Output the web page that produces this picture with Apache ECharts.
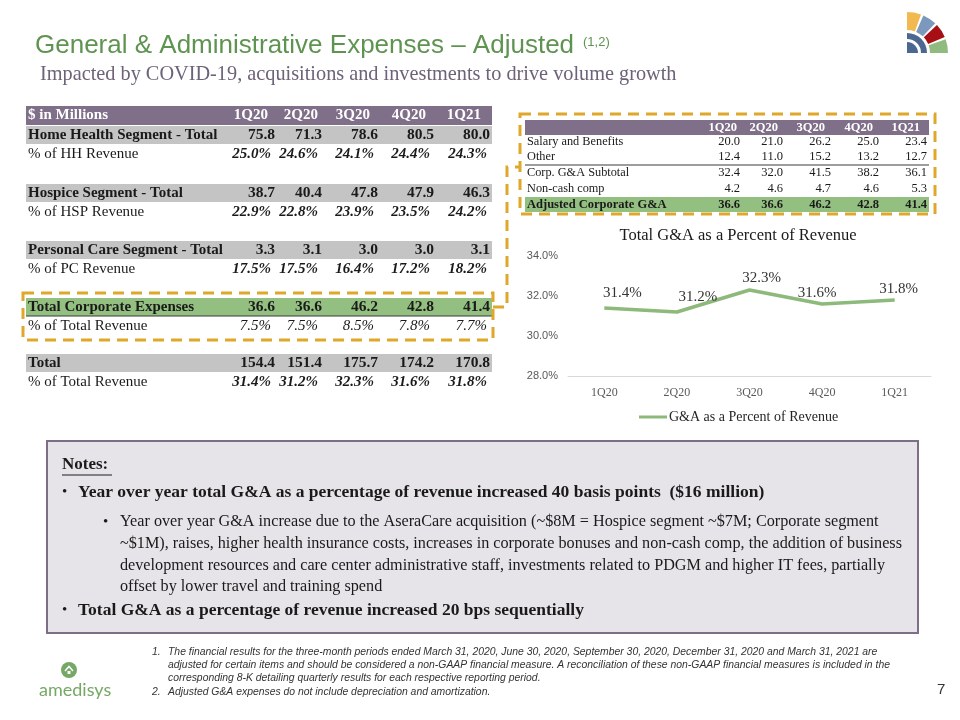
<!DOCTYPE html>
<html><head><meta charset="utf-8">
<script src="https://cdn.jsdelivr.net/npm/echarts@6/dist/echarts.min.js"></script>
<style>html,body{margin:0;padding:0;background:#fff}#c{width:960px;height:720px}</style>
</head><body><div id="c"></div>
<script>
// ---- data ----
const quarters = ['1Q20','2Q20','3Q20','4Q20','1Q21'];
const hhTotal  = [75.8, 71.3, 78.6, 80.5, 80.0];
const hhPct    = [25.0, 24.6, 24.1, 24.4, 24.3];
const hspTotal = [38.7, 40.4, 47.8, 47.9, 46.3];
const hspPct   = [22.9, 22.8, 23.9, 23.5, 24.2];
const pcTotal  = [3.3, 3.1, 3.0, 3.0, 3.1];
const pcPct    = [17.5, 17.5, 16.4, 17.2, 18.2];
const corpTotal= [36.6, 36.6, 46.2, 42.8, 41.4];
const corpPct  = [7.5, 7.5, 8.5, 7.8, 7.7];
const grandTotal = [154.4, 151.4, 175.7, 174.2, 170.8];
const grandPct = [31.4, 31.2, 32.3, 31.6, 31.8];
const salary   = [20.0, 21.0, 26.2, 25.0, 23.4];
const other    = [12.4, 11.0, 15.2, 13.2, 12.7];
const corpSub  = [32.4, 32.0, 41.5, 38.2, 36.1];
const nonCash  = [4.2, 4.6, 4.7, 4.6, 5.3];
const adjCorp  = [36.6, 36.6, 46.2, 42.8, 41.4];
const gaPctRevenue = [31.4, 31.2, 32.3, 31.6, 31.8];
const yMin = 28, yMax = 34, yStep = 2;

// ---- styles ----
const SERIF = '"Liberation Serif", Georgia, serif';
const SANS = '"Liberation Sans", Arial, sans-serif';
const PURPLE = '#7F6F89', GRAY = '#C4C4C4', GREEN = '#93BF80', GOLD = '#E0A82A';
const g = [];
function txt(x, y, s, opt) {
  opt = opt || {};
  const st = Object.assign({
    text: s, x: x, y: y, fill: '#1a1a1a',
    font: (opt.weight || 'normal') + ' ' + (opt.size || 14) + 'px ' + (opt.family || SERIF),
    align: opt.align || 'left', verticalAlign: 'middle',
    textAlign: opt.align || 'left', textVerticalAlign: 'middle'
  }, opt.style || {});
  if (opt.fill) st.fill = opt.fill;
  if (opt.fontStyle) st.font = opt.fontStyle + ' ' + st.font;
  g.push({ type: 'text', z: 10, style: st });
}
function rect(x, y, w, h, fill, z) {
  g.push({ type: 'rect', z: z || 1, shape: { x: x, y: y, width: w, height: h }, style: { fill: fill } });
}
function line(x1, y1, x2, y2, stroke, lw, dash) {
  g.push({ type: 'line', z: 5, shape: { x1: x1, y1: y1, x2: x2, y2: y2 }, style: { stroke: stroke, lineWidth: lw, lineDash: dash || null } });
}
function fmt(v, d) { return v.toFixed(d); }

// Title
txt(35, 46, 'General & Administrative Expenses – Adjusted', { family: SANS, size: 26, fill: '#5E9450' });
txt(583, 42, '(1,2)', { family: SANS, size: 13, fill: '#5E9450' });
txt(40, 75, 'Impacted by COVID-19, acquisitions and investments to drive volume growth', { size: 20.3, fill: '#6E6278' });

// ---- left table ----
const numR = [275, 322, 378, 434, 490];
const pctR = [271, 318, 374, 430, 487];
const hdrR = [268, 318, 370, 426, 481];
rect(26, 106, 466, 19, PURPLE);
txt(28, 115.5, '$ in Millions', { weight: 'bold', size: 15, fill: '#fff' });
quarters.forEach((q, i) => txt(hdrR[i], 115.5, q, { weight: 'bold', size: 15, fill: '#fff', align: 'right' }));

function segRows(yTop, label, vals, pctLabel, pcts, bg, boldPct) {
  rect(26, yTop, 466, 18, bg);
  txt(28, yTop + 9, label, { weight: 'bold', size: 15 });
  vals.forEach((v, i) => txt(numR[i], yTop + 9, fmt(v, 1), { weight: 'bold', size: 15.5, align: 'right' }));
  txt(28, yTop + 28, pctLabel, { size: 15 });
  pcts.forEach((v, i) => txt(pctR[i], yTop + 28, fmt(v, 1) + '%', { weight: boldPct ? 'bold' : 'normal', fontStyle: 'italic', size: 15, align: 'right' }));
}
segRows(126, 'Home Health Segment - Total', hhTotal, '% of HH Revenue', hhPct, GRAY, true);
segRows(184, 'Hospice Segment - Total', hspTotal, '% of HSP Revenue', hspPct, GRAY, true);
segRows(241, 'Personal Care Segment - Total', pcTotal, '% of PC Revenue', pcPct, GRAY, true);
segRows(298, 'Total Corporate Expenses', corpTotal, '% of Total Revenue', corpPct, GREEN, false);
line(26, 316, 492, 316, '#3a3a3a', 1);
segRows(354, 'Total', grandTotal, '% of Total Revenue', grandPct, GRAY, true);

// dashed boxes
g.push({ type: 'rect', z: 6, shape: { x: 23, y: 293, width: 470, height: 47 }, style: { fill: null, stroke: GOLD, lineWidth: 3, lineDash: [11, 7] } });
g.push({ type: 'rect', z: 6, shape: { x: 520, y: 114, width: 415, height: 100 }, style: { fill: null, stroke: GOLD, lineWidth: 3, lineDash: [11, 7] } });
g.push({ type: 'polyline', z: 6, shape: { points: [[493, 307], [507, 307], [507, 167], [520, 167]] }, style: { fill: null, stroke: GOLD, lineWidth: 3, lineDash: [11, 7] } });

// ---- right table ----
const rNumR = [740, 783, 831, 879, 927];
const rHdrR = [737, 778, 825, 873, 920];
rect(525, 120, 404, 15, PURPLE);
quarters.forEach((q, i) => txt(rHdrR[i], 127.5, q, { weight: 'bold', size: 12.5, fill: '#fff', align: 'right' }));
const rRows = [
  ['Salary and Benefits', salary, 142],
  ['Other', other, 157],
  ['Corp. G&A Subtotal', corpSub, 173],
  ['Non-cash comp', nonCash, 189]
];
rRows.forEach(r => {
  txt(527, r[2], r[0], { size: 12.3 });
  r[1].forEach((v, i) => txt(rNumR[i], r[2], fmt(v, 1), { size: 12.5, align: 'right' }));
});
line(525, 165, 929, 165, '#3a3a3a', 1);
rect(525, 197, 404, 15, GREEN);
txt(527, 205, 'Adjusted Corporate G&A', { weight: 'bold', size: 12.5 });
adjCorp.forEach((v, i) => txt(rNumR[i], 205, fmt(v, 1), { weight: 'bold', size: 12.5, align: 'right' }));

// ---- notes box ----
g.push({ type: 'rect', z: 0, shape: { x: 47, y: 441, width: 871, height: 192 }, style: { fill: '#E7E4E9', stroke: '#7C6E86', lineWidth: 2 } });
txt(62, 465, 'Notes:', { weight: 'bold', size: 17 });
line(62, 475, 112, 475, '#1a1a1a', 1);
txt(62, 492, '•', { size: 15 });
txt(78, 492, 'Year over year total G&A as a percentage of revenue increased 40 basis points  ($16 million)', { weight: 'bold', size: 17.5 });
txt(103, 522, '•', { size: 15 });
const subLines = [
  'Year over year G&A increase due to the AseraCare acquisition (~$8M = Hospice segment ~$7M; Corporate segment',
  '~$1M), raises, higher health insurance costs, increases in corporate bonuses and non-cash comp, the addition of business',
  'development resources and care center administrative staff, investments related to PDGM and higher IT fees, partially',
  'offset by lower travel and training spend'
];
subLines.forEach((s, i) => txt(120, 522 + i * 21.7, s, { size: 16.2 }));
txt(62, 610, '•', { size: 15 });
txt(78, 610, 'Total G&A as a percentage of revenue increased 20 bps sequentially', { weight: 'bold', size: 17.5 });

// ---- footnotes ----
const fn = [
  ['1.', 'The financial results for the three-month periods ended March 31, 2020, June 30, 2020, September 30, 2020, December 31, 2020 and March 31, 2021 are', 652],
  ['', 'adjusted for certain items and should be considered a non-GAAP financial measure. A reconciliation of these non-GAAP financial measures is included in the', 665],
  ['', 'corresponding 8-K detailing quarterly results for each respective reporting period.', 678],
  ['2.', 'Adjusted G&A expenses do not include depreciation and amortization.', 692]
];
fn.forEach(f => {
  if (f[0]) txt(152, f[2], f[0], { family: SANS, size: 10.4, fontStyle: 'italic', fill: '#333' });
  txt(168, f[2], f[1], { family: SANS, size: 10.4, fontStyle: 'italic', fill: '#333' });
});
txt(937, 690, '7', { family: SANS, size: 15, fill: '#333' });

// amedisys logo
g.push({ type: 'circle', z: 5, shape: { cx: 69, cy: 670, r: 8 }, style: { fill: '#76A865' } });
g.push({ type: 'polyline', z: 6, shape: { points: [[65, 671], [69, 666.5], [73, 671]] }, style: { fill: null, stroke: '#fff', lineWidth: 1.5 } });
g.push({ type: 'rect', z: 6, shape: { x: 67.5, y: 671, width: 3, height: 3 }, style: { fill: '#fff' } });
txt(39, 690, 'amedisys', { family: 'Lato, "Open Sans", sans-serif', size: 18, fill: '#76A865', weight: 'normal' });

// top-right fan logo
const cx = 907, cy = 53;
const D = Math.PI / 180;
const wedges = [['#F2B950', -90, -70], ['#7C98BC', -66.5, -46.5], ['#A80F14', -43, -23], ['#8FBC7E', -19.5, 0]];
wedges.forEach(w => g.push({ type: 'sector', z: 5, shape: { cx: cx, cy: cy, r0: 23, r: 41, startAngle: w[1] * D, endAngle: w[2] * D, clockwise: true }, style: { fill: w[0] } }));
g.push({ type: 'sector', z: 5, shape: { cx: cx, cy: cy, r0: 0, r: 11, startAngle: -90 * D, endAngle: 0, clockwise: true }, style: { fill: '#4C6890' } });
g.push({ type: 'sector', z: 5, shape: { cx: cx, cy: cy, r0: 14, r: 20, startAngle: -90 * D, endAngle: 0, clockwise: true }, style: { fill: '#4C6890' } });

// ---- chart ----
const labelOffsets = [[18, -2], [21, -2], [12, 1], [-5, 2], [4, 2]];
const chart = echarts.init(document.getElementById('c'));
chart.setOption({
  animation: false,
  title: { text: 'Total G&A as a Percent of Revenue', left: 733, top: 222, textAlign: 'center',
    textStyle: { fontFamily: SERIF, fontSize: 16.5, fontWeight: 'normal', color: '#1a1a1a' } },
  grid: { left: 568, right: 29, top: 256, bottom: 344 },
  legend: { top: 405, data: ['G&A as a Percent of Revenue'], left: 634,
    icon: 'rect', itemWidth: 28, itemHeight: 3, itemGap: 4,
    textStyle: { fontFamily: SERIF, fontSize: 14, color: '#262626', padding: [0, 0, 0, -3] } },
  xAxis: { type: 'category', data: quarters, boundaryGap: true,
    axisLine: { lineStyle: { color: '#D9D9D9' } }, axisTick: { show: false },
    axisLabel: { fontFamily: SERIF, fontSize: 12, color: '#595959', margin: 11 } },
  yAxis: { type: 'value', min: yMin, max: yMax, interval: yStep,
    axisLine: { show: false }, axisTick: { show: false }, splitLine: { show: false },
    axisLabel: { fontFamily: SANS, fontSize: 11, color: '#595959', margin: 10, formatter: v => v.toFixed(1) + '%' } },
  series: [{
    name: 'G&A as a Percent of Revenue', type: 'line', symbol: 'circle', symbolSize: 0.01, showSymbol: true,
    lineStyle: { color: '#8DB97B', width: 3.5 }, itemStyle: { color: '#8DB97B' },
    data: gaPctRevenue.map((v, i) => ({ value: v, label: { offset: labelOffsets[i] } })),
    label: { show: true, position: 'top', distance: 5, fontFamily: SERIF, fontSize: 15, color: '#333',
      formatter: p => p.value.toFixed(1) + '%' }
  }],
  graphic: { elements: g }
});
</script></body></html>
